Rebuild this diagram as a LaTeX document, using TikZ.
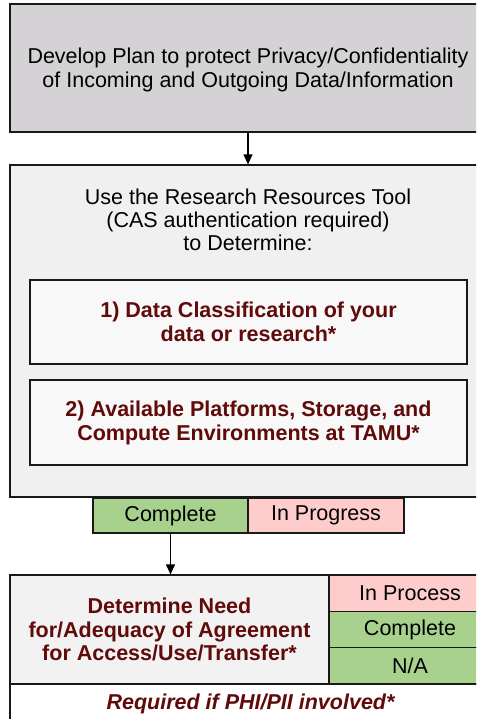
\documentclass[tikz,border=0pt]{standalone}
\usepackage{fontspec}
\setmainfont{Liberation Sans}
\usetikzlibrary{arrows.meta}
\definecolor{plangray}{RGB}{212,210,212}
\definecolor{toolgray}{RGB}{240,240,240}
\definecolor{itemgray}{RGB}{248,248,248}
\definecolor{agreegray}{RGB}{242,242,242}
\definecolor{donegreen}{RGB}{169,209,142}
\definecolor{waitpink}{RGB}{255,204,204}
\definecolor{maroon}{RGB}{96,10,10}
\tikzset{
  box/.style={draw=black!90, line width=1.2pt, inner sep=0pt, align=center, font=\fontsize{21.5}{24}\selectfont},
  item/.style={box, fill=itemgray, text=maroon, font=\fontsize{21.5}{24}\selectfont\bfseries},
  status/.style={box, font=\fontsize{21.5}{22}\selectfont},
  flow/.style={line width=1.2pt, -{Triangle[length=10pt,width=9pt]}}
}
\begin{document}
\begin{tikzpicture}[x=1pt,y=-1pt]
    \clip (0,0) rectangle (476,719);
    \fill[white] (0,0) rectangle (476,719);

    \node[box, fill=plangray, minimum width=476, minimum height=128] (plan) at (248,68) {};
    \node[align=center, font=\fontsize{21.5}{24}\selectfont] (goal) at (248,70) {Develop Plan to protect Privacy/Confidentiality\\of Incoming and Outgoing Data/Information};

    \node[box, fill=toolgray, minimum width=476, minimum height=332] (tool) at (248,331) {};
    \node[align=center, font=\fontsize{21.5}{23}\selectfont] (use) at (248,220) {Use the Research Resources Tool\\(CAS authentication required)\\to Determine:};

    \node[item, minimum width=437, minimum height=84] (class) at (248.5,322) {1) Data Classification of your\\data or research*};
    \node[item, minimum width=437, minimum height=85] (env) at (248.5,422.5) {2) Available Platforms, Storage, and\\Compute Environments at TAMU*};

    \node[status, fill=donegreen, minimum width=155, minimum height=35] (done) at (170.5,515.5) {Complete};
    \node[status, fill=waitpink, minimum width=156, minimum height=35] (prog) at (326,515.5) {In Progress};

    \node[box, fill=agreegray, text=maroon, font=\fontsize{21.5}{23.5}\selectfont\bfseries, minimum width=319, minimum height=109] (agree) at (169.5,629.5) {Determine Need\\for/Adequacy of Agreement\\for Access/Use/Transfer*};
    \node[status, fill=waitpink, minimum width=162, minimum height=36.3] (inproc) at (410,593.2) {In Process};
    \node[status, fill=donegreen, minimum width=162, minimum height=36.3] (agreed) at (410,629.5) {Complete};
    \node[status, fill=donegreen, minimum width=162, minimum height=36.3] (na) at (410,665.8) {N/A};
    \node[box, fill=white, text=maroon, font=\fontsize{21.5}{22}\selectfont\bfseries\itshape, minimum width=481, minimum height=40] (phi) at (250.5,704) {Required if PHI/PII involved*};

    \draw[flow] (plan.south) -- (tool.north);
    \draw[flow] (done.south) -- (done.south |- agree.north);
  \end{tikzpicture}
\end{document}
